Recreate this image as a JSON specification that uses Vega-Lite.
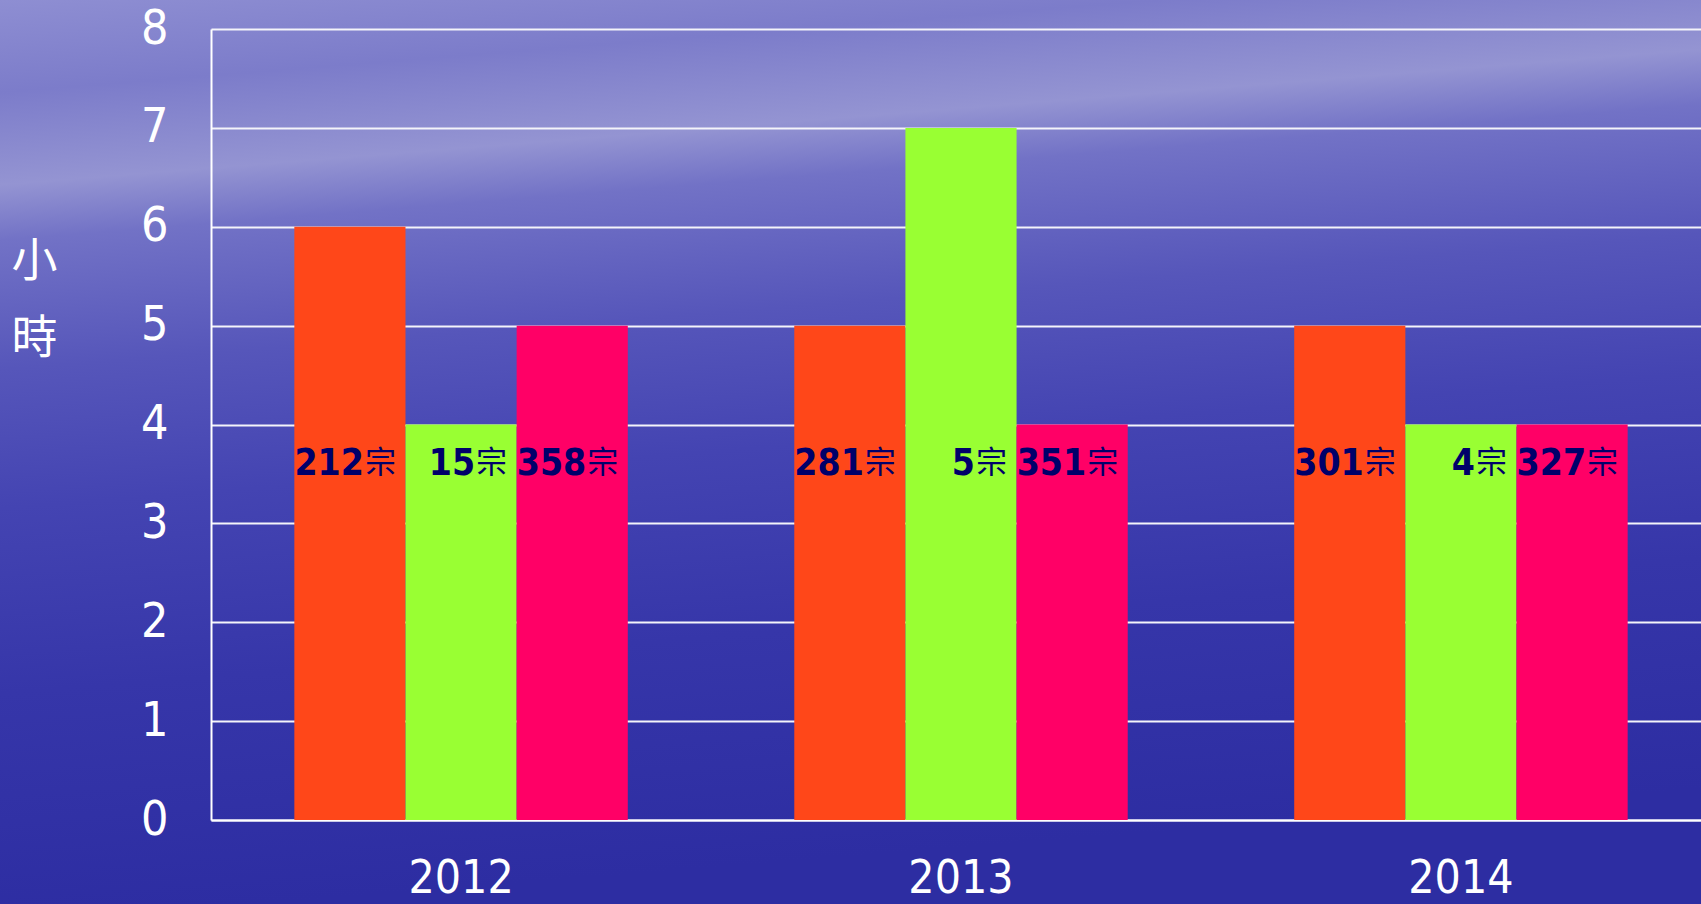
{
  "$schema": "https://vega.github.io/schema/vega-lite/v6.json",
  "width": 1701,
  "height": 904,
  "autosize": "none",
  "padding": 0,
  "background": "#3c3cac",
  "config": {
    "view": {
      "stroke": null,
      "fill": {
        "gradient": "linear",
        "x1": 0, "y1": 0, "x2": 0.15, "y2": 1,
        "stops": [
          {"offset": 0, "color": "#8e8ed2"},
          {"offset": 0.1, "color": "#7c7cca"},
          {"offset": 0.2, "color": "#9494d2"},
          {"offset": 0.26, "color": "#7272c6"},
          {"offset": 0.4, "color": "#5656ba"},
          {"offset": 0.55, "color": "#4444b2"},
          {"offset": 0.75, "color": "#3636a9"},
          {"offset": 1, "color": "#2d2da2"}
        ]
      }
    }
  },
  "data": {
    "values": [
      {"year": "2012", "series": "系列1", "hours": 6, "num": "212", "unit": "宗"},
      {"year": "2012", "series": "系列2", "hours": 4, "num": "15", "unit": "宗"},
      {"year": "2012", "series": "系列3", "hours": 5, "num": "358", "unit": "宗"},
      {"year": "2013", "series": "系列1", "hours": 5, "num": "281", "unit": "宗"},
      {"year": "2013", "series": "系列2", "hours": 7, "num": "5", "unit": "宗"},
      {"year": "2013", "series": "系列3", "hours": 4, "num": "351", "unit": "宗"},
      {"year": "2014", "series": "系列1", "hours": 5, "num": "301", "unit": "宗"},
      {"year": "2014", "series": "系列2", "hours": 4, "num": "4", "unit": "宗"},
      {"year": "2014", "series": "系列3", "hours": 4, "num": "327", "unit": "宗"}
    ]
  },
  "encoding": {
    "x": {
      "field": "year",
      "type": "nominal",
      "sort": null,
      "scale": {"range": [211, 1711], "paddingInner": 0.333, "paddingOuter": 0.1667},
      "axis": {
        "title": null,
        "orient": "bottom",
        "offset": -84,
        "labelAngle": 0,
        "labelFont": "DejaVu Sans Condensed, DejaVu Sans",
        "labelFontSize": 46,
        "labelColor": "#ffffff",
        "labelPadding": 36,
        "labelBaseline": "top",
        "ticks": false,
        "domain": true,
        "domainColor": "#ffffff",
        "domainWidth": 2,
        "grid": false
      }
    },
    "xOffset": {
      "field": "series",
      "type": "nominal",
      "sort": ["系列1", "系列2", "系列3"],
      "scale": {"paddingInner": 0, "paddingOuter": 0}
    }
  },
  "layer": [
    {
      "mark": {"type": "bar", "opacity": 1},
      "encoding": {
        "y": {
          "field": "hours",
          "type": "quantitative",
          "scale": {"domain": [0, 8], "range": [820, 29], "nice": false, "zero": true},
          "axis": {
            "title": ["小", "時"],
            "titleAngle": 0,
            "titleFont": "Noto Sans CJK TC",
            "titleFontSize": 46,
            "titleFontWeight": "normal",
            "titleColor": "#ffffff",
            "titleLineHeight": 77,
            "titleAlign": "center",
            "titleBaseline": "middle",
            "titleX": -177,
            "titleY": 261,
            "offset": -211,
            "values": [0, 1, 2, 3, 4, 5, 6, 7, 8],
            "format": "d",
            "labelFont": "DejaVu Sans Condensed, DejaVu Sans",
            "labelFontSize": 48,
            "labelColor": "#ffffff",
            "labelPadding": 43,
            "ticks": false,
            "domain": true,
            "domainColor": "#ffffff",
            "domainWidth": 2,
            "grid": true,
            "gridColor": "#f4f4fa",
            "gridWidth": 2,
            "gridOpacity": 1
          }
        },
        "color": {
          "field": "series",
          "type": "nominal",
          "scale": {"domain": ["系列1", "系列2", "系列3"], "range": ["#ff4719", "#99ff33", "#ff0066"]},
          "legend": null
        }
      }
    },
    {
      "mark": {
        "type": "text",
        "align": "right",
        "baseline": "middle",
        "dx": 14,
        "font": "DejaVu Sans Condensed, DejaVu Sans",
        "fontWeight": "bold",
        "fontSize": 37,
        "color": "#00006a"
      },
      "encoding": {
        "y": {"datum": 3.6, "type": "quantitative"},
        "text": {"field": "num"}
      }
    },
    {
      "mark": {
        "type": "text",
        "align": "left",
        "baseline": "middle",
        "dx": 15,
        "font": "Noto Sans CJK TC",
        "fontWeight": "normal",
        "fontSize": 31,
        "color": "#00006a"
      },
      "encoding": {
        "y": {"datum": 3.6, "type": "quantitative"},
        "text": {"field": "unit"}
      }
    }
  ]
}
